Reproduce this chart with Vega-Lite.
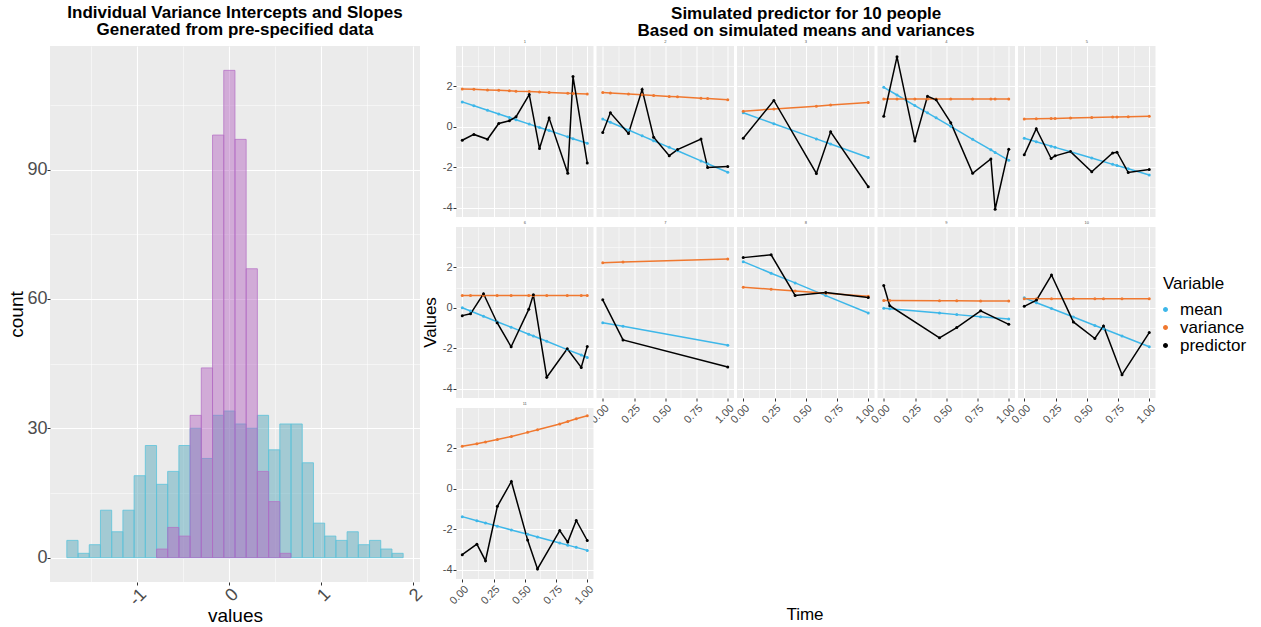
{
  "$schema": "https://vega.github.io/schema/vega-lite/v6.json",
  "padding": {"left": 7, "top": 4, "right": 5, "bottom": 0},
  "background": "white",
  "config": {
    "font": "Liberation Sans",
    "view": {"fill": "#EBEBEB", "stroke": null},
    "axis": {"domain": false, "gridColor": "#FFFFFF", "tickColor": "#333333", "tickSize": 3, "labelColor": "#4D4D4D", "titleColor": "#000000", "titleFontWeight": "normal"},
    "title": {"fontWeight": "bold", "fontSize": 17, "lineHeight": 17, "color": "#000000", "anchor": "middle"},
    "legend": {"orient": "none", "legendX": 1113, "legendY": 230, "titleFontSize": 17, "titleFontWeight": "normal", "labelFontSize": 17, "symbolType": "circle", "symbolSize": 12, "symbolOffset": -6, "rowPadding": 0, "titlePadding": 8, "labelOffset": 6}
  },
  "spacing": -5,
  "hconcat": [
    {
      "title": {"text": ["Individual Variance Intercepts and Slopes", "Generated from pre-specified data"], "offset": 7},
      "width": 370,
      "height": 536,
      "data": {"values": [
        {"param": "intercept", "x0": -1.764, "x1": -1.642, "count": 4},
        {"param": "intercept", "x0": -1.642, "x1": -1.520, "count": 1},
        {"param": "intercept", "x0": -1.520, "x1": -1.398, "count": 3},
        {"param": "intercept", "x0": -1.398, "x1": -1.276, "count": 11},
        {"param": "intercept", "x0": -1.276, "x1": -1.154, "count": 6},
        {"param": "intercept", "x0": -1.154, "x1": -1.032, "count": 11},
        {"param": "intercept", "x0": -1.032, "x1": -0.910, "count": 19},
        {"param": "intercept", "x0": -0.910, "x1": -0.788, "count": 26},
        {"param": "intercept", "x0": -0.788, "x1": -0.667, "count": 17},
        {"param": "intercept", "x0": -0.667, "x1": -0.545, "count": 20},
        {"param": "intercept", "x0": -0.545, "x1": -0.423, "count": 26},
        {"param": "intercept", "x0": -0.423, "x1": -0.301, "count": 30},
        {"param": "intercept", "x0": -0.301, "x1": -0.179, "count": 23},
        {"param": "intercept", "x0": -0.179, "x1": -0.057, "count": 33},
        {"param": "intercept", "x0": -0.057, "x1": 0.065, "count": 34},
        {"param": "intercept", "x0": 0.065, "x1": 0.187, "count": 31},
        {"param": "intercept", "x0": 0.187, "x1": 0.309, "count": 30},
        {"param": "intercept", "x0": 0.309, "x1": 0.431, "count": 33},
        {"param": "intercept", "x0": 0.431, "x1": 0.553, "count": 25},
        {"param": "intercept", "x0": 0.553, "x1": 0.675, "count": 31},
        {"param": "intercept", "x0": 0.675, "x1": 0.797, "count": 31},
        {"param": "intercept", "x0": 0.797, "x1": 0.919, "count": 22},
        {"param": "intercept", "x0": 0.919, "x1": 1.041, "count": 8},
        {"param": "intercept", "x0": 1.041, "x1": 1.163, "count": 5},
        {"param": "intercept", "x0": 1.163, "x1": 1.285, "count": 4},
        {"param": "intercept", "x0": 1.285, "x1": 1.407, "count": 6},
        {"param": "intercept", "x0": 1.407, "x1": 1.529, "count": 3},
        {"param": "intercept", "x0": 1.529, "x1": 1.651, "count": 4},
        {"param": "intercept", "x0": 1.651, "x1": 1.773, "count": 2},
        {"param": "intercept", "x0": 1.773, "x1": 1.895, "count": 1},
        {"param": "slope", "x0": -0.788, "x1": -0.667, "count": 2},
        {"param": "slope", "x0": -0.667, "x1": -0.545, "count": 7},
        {"param": "slope", "x0": -0.545, "x1": -0.423, "count": 5},
        {"param": "slope", "x0": -0.423, "x1": -0.301, "count": 33},
        {"param": "slope", "x0": -0.301, "x1": -0.179, "count": 44},
        {"param": "slope", "x0": -0.179, "x1": -0.057, "count": 98},
        {"param": "slope", "x0": -0.057, "x1": 0.065, "count": 113},
        {"param": "slope", "x0": 0.065, "x1": 0.187, "count": 97},
        {"param": "slope", "x0": 0.187, "x1": 0.309, "count": 67},
        {"param": "slope", "x0": 0.309, "x1": 0.431, "count": 20},
        {"param": "slope", "x0": 0.431, "x1": 0.553, "count": 13},
        {"param": "slope", "x0": 0.553, "x1": 0.675, "count": 1}
      ]},
      "encoding": {
        "x": {"field": "x0", "type": "quantitative", "title": "values",
          "scale": {"domain": [-1.947, 2.078], "nice": false, "zero": false},
          "axis": {"values": [-1.5, -1, -0.5, 0, 0.5, 1, 1.5, 2],
            "labelExpr": "datum.value % 1 === 0 ? '' + datum.value : ''",
            "gridWidth": {"condition": {"test": "datum.value % 1 === 0", "value": 1.1}, "value": 0.5},
            "tickOpacity": {"condition": {"test": "datum.value % 1 === 0", "value": 1}, "value": 0},
            "labelAngle": -45, "labelFontSize": 18, "titleFontSize": 19, "labelPadding": 0, "titlePadding": -3}},
        "x2": {"field": "x1"},
        "y": {"field": "count", "type": "quantitative", "title": "count",
          "scale": {"domain": [-5.65, 118.65], "nice": false, "zero": false},
          "axis": {"values": [0, 15, 30, 45, 60, 75, 90, 105],
            "labelExpr": "datum.value % 30 === 0 ? '' + datum.value : ''",
            "gridWidth": {"condition": {"test": "datum.value % 30 === 0", "value": 1.1}, "value": 0.5},
            "tickOpacity": {"condition": {"test": "datum.value % 30 === 0", "value": 1}, "value": 0},
            "labelFontSize": 18, "titleFontSize": 19, "labelPadding": 0, "titlePadding": 0}},
        "y2": {"datum": 0}
      },
      "layer": [
        {"transform": [{"filter": "datum.param === 'intercept'"}],
         "mark": {"type": "rect", "fill": "#67AFC0", "fillOpacity": 0.55, "stroke": "#5CC3DB", "strokeWidth": 1, "strokeOpacity": 0.8}},
        {"transform": [{"filter": "datum.param === 'slope'"}],
         "mark": {"type": "rect", "fill": "#B25EBE", "fillOpacity": 0.45, "stroke": "#B46CC4", "strokeWidth": 1, "strokeOpacity": 0.7}}
      ]
    },
    {
      "title": {"text": ["Simulated predictor for 10 people", "Based on simulated means and variances"], "offset": 6, "dy": 6, "dx": 17},
      "data": {"values": [
        {"id": 1, "t": 0, "mean": 1.23, "variance": 1.87, "predictor": -0.67},
        {"id": 1, "t": 0.093, "mean": 1.04, "variance": 1.85, "predictor": -0.38},
        {"id": 1, "t": 0.202, "mean": 0.82, "variance": 1.82, "predictor": -0.62},
        {"id": 1, "t": 0.292, "mean": 0.63, "variance": 1.80, "predictor": 0.16},
        {"id": 1, "t": 0.377, "mean": 0.46, "variance": 1.78, "predictor": 0.30},
        {"id": 1, "t": 0.430, "mean": 0.35, "variance": 1.76, "predictor": 0.49},
        {"id": 1, "t": 0.536, "mean": 0.13, "variance": 1.74, "predictor": 1.59},
        {"id": 1, "t": 0.618, "mean": -0.04, "variance": 1.72, "predictor": -1.08},
        {"id": 1, "t": 0.695, "mean": -0.19, "variance": 1.70, "predictor": 0.43},
        {"id": 1, "t": 0.844, "mean": -0.50, "variance": 1.66, "predictor": -2.30},
        {"id": 1, "t": 0.886, "mean": -0.59, "variance": 1.65, "predictor": 2.48},
        {"id": 1, "t": 1.0, "mean": -0.82, "variance": 1.62, "predictor": -1.79},
        {"id": 2, "t": 0, "mean": 0.38, "variance": 1.69, "predictor": -0.28},
        {"id": 2, "t": 0.061, "mean": 0.22, "variance": 1.67, "predictor": 0.69},
        {"id": 2, "t": 0.206, "mean": -0.16, "variance": 1.62, "predictor": -0.33},
        {"id": 2, "t": 0.315, "mean": -0.45, "variance": 1.58, "predictor": 1.84},
        {"id": 2, "t": 0.407, "mean": -0.69, "variance": 1.55, "predictor": -0.52},
        {"id": 2, "t": 0.532, "mean": -1.02, "variance": 1.50, "predictor": -1.43},
        {"id": 2, "t": 0.598, "mean": -1.19, "variance": 1.48, "predictor": -1.13},
        {"id": 2, "t": 0.786, "mean": -1.69, "variance": 1.41, "predictor": -0.61},
        {"id": 2, "t": 0.839, "mean": -1.83, "variance": 1.40, "predictor": -2.02},
        {"id": 2, "t": 1.0, "mean": -2.25, "variance": 1.34, "predictor": -1.97},
        {"id": 3, "t": 0, "mean": 0.69, "variance": 0.77, "predictor": -0.57},
        {"id": 3, "t": 0.245, "mean": 0.15, "variance": 0.88, "predictor": 1.30},
        {"id": 3, "t": 0.585, "mean": -0.60, "variance": 1.02, "predictor": -2.31},
        {"id": 3, "t": 0.699, "mean": -0.85, "variance": 1.07, "predictor": -0.25},
        {"id": 3, "t": 1.0, "mean": -1.52, "variance": 1.20, "predictor": -2.97},
        {"id": 4, "t": 0, "mean": 1.95, "variance": 1.37, "predictor": 0.52},
        {"id": 4, "t": 0.106, "mean": 1.57, "variance": 1.37, "predictor": 3.46},
        {"id": 4, "t": 0.249, "mean": 1.05, "variance": 1.37, "predictor": -0.70},
        {"id": 4, "t": 0.350, "mean": 0.69, "variance": 1.37, "predictor": 1.51},
        {"id": 4, "t": 0.419, "mean": 0.44, "variance": 1.37, "predictor": 1.33},
        {"id": 4, "t": 0.536, "mean": 0.02, "variance": 1.37, "predictor": 0.20},
        {"id": 4, "t": 0.711, "mean": -0.62, "variance": 1.37, "predictor": -2.30},
        {"id": 4, "t": 0.857, "mean": -1.14, "variance": 1.37, "predictor": -1.59},
        {"id": 4, "t": 0.891, "mean": -1.27, "variance": 1.37, "predictor": -4.08},
        {"id": 4, "t": 1.0, "mean": -1.66, "variance": 1.37, "predictor": -1.11},
        {"id": 5, "t": 0, "mean": -0.57, "variance": 0.38, "predictor": -1.39},
        {"id": 5, "t": 0.096, "mean": -0.74, "variance": 0.39, "predictor": -0.10},
        {"id": 5, "t": 0.215, "mean": -0.96, "variance": 0.41, "predictor": -1.57},
        {"id": 5, "t": 0.247, "mean": -1.02, "variance": 0.41, "predictor": -1.44},
        {"id": 5, "t": 0.370, "mean": -1.24, "variance": 0.43, "predictor": -1.23},
        {"id": 5, "t": 0.540, "mean": -1.55, "variance": 0.46, "predictor": -2.23},
        {"id": 5, "t": 0.707, "mean": -1.86, "variance": 0.48, "predictor": -1.30},
        {"id": 5, "t": 0.742, "mean": -1.92, "variance": 0.48, "predictor": -1.26},
        {"id": 5, "t": 0.832, "mean": -2.08, "variance": 0.50, "predictor": -2.26},
        {"id": 5, "t": 1.0, "mean": -2.39, "variance": 0.52, "predictor": -2.11},
        {"id": 6, "t": 0, "mean": 0.0, "variance": 0.61, "predictor": -0.39},
        {"id": 6, "t": 0.066, "mean": -0.16, "variance": 0.61, "predictor": -0.30},
        {"id": 6, "t": 0.170, "mean": -0.42, "variance": 0.61, "predictor": 0.69},
        {"id": 6, "t": 0.279, "mean": -0.69, "variance": 0.61, "predictor": -0.74},
        {"id": 6, "t": 0.391, "mean": -0.96, "variance": 0.61, "predictor": -1.93},
        {"id": 6, "t": 0.532, "mean": -1.31, "variance": 0.61, "predictor": -0.08},
        {"id": 6, "t": 0.569, "mean": -1.40, "variance": 0.61, "predictor": 0.64},
        {"id": 6, "t": 0.676, "mean": -1.66, "variance": 0.61, "predictor": -3.44},
        {"id": 6, "t": 0.840, "mean": -2.07, "variance": 0.61, "predictor": -2.03},
        {"id": 6, "t": 0.952, "mean": -2.34, "variance": 0.61, "predictor": -2.95},
        {"id": 6, "t": 1.0, "mean": -2.46, "variance": 0.61, "predictor": -1.92},
        {"id": 7, "t": 0, "mean": -0.74, "variance": 2.23, "predictor": 0.39},
        {"id": 7, "t": 0.162, "mean": -0.92, "variance": 2.26, "predictor": -1.59},
        {"id": 7, "t": 1.0, "mean": -1.85, "variance": 2.41, "predictor": -2.93},
        {"id": 8, "t": 0, "mean": 2.28, "variance": 1.02, "predictor": 2.48},
        {"id": 8, "t": 0.223, "mean": 1.71, "variance": 0.92, "predictor": 2.62},
        {"id": 8, "t": 0.415, "mean": 1.23, "variance": 0.83, "predictor": 0.61},
        {"id": 8, "t": 0.660, "mean": 0.60, "variance": 0.72, "predictor": 0.75},
        {"id": 8, "t": 1.0, "mean": -0.26, "variance": 0.57, "predictor": 0.51},
        {"id": 9, "t": 0, "mean": -0.02, "variance": 0.36, "predictor": 1.10},
        {"id": 9, "t": 0.048, "mean": -0.05, "variance": 0.36, "predictor": 0.10},
        {"id": 9, "t": 0.446, "mean": -0.26, "variance": 0.35, "predictor": -1.49},
        {"id": 9, "t": 0.584, "mean": -0.34, "variance": 0.35, "predictor": -0.98},
        {"id": 9, "t": 0.775, "mean": -0.44, "variance": 0.34, "predictor": -0.15},
        {"id": 9, "t": 1.0, "mean": -0.56, "variance": 0.34, "predictor": -0.82},
        {"id": 10, "t": 0, "mean": 0.49, "variance": 0.44, "predictor": 0.07},
        {"id": 10, "t": 0.098, "mean": 0.25, "variance": 0.44, "predictor": 0.38},
        {"id": 10, "t": 0.218, "mean": -0.04, "variance": 0.44, "predictor": 1.62},
        {"id": 10, "t": 0.393, "mean": -0.46, "variance": 0.44, "predictor": -0.70},
        {"id": 10, "t": 0.565, "mean": -0.88, "variance": 0.44, "predictor": -1.52},
        {"id": 10, "t": 0.634, "mean": -1.04, "variance": 0.44, "predictor": -0.90},
        {"id": 10, "t": 0.782, "mean": -1.40, "variance": 0.44, "predictor": -3.31},
        {"id": 10, "t": 1.0, "mean": -1.93, "variance": 0.44, "predictor": -1.23},
        {"id": 11, "t": 0, "mean": -1.38, "variance": 2.10, "predictor": -3.26},
        {"id": 11, "t": 0.117, "mean": -1.58, "variance": 2.23, "predictor": -2.74},
        {"id": 11, "t": 0.186, "mean": -1.69, "variance": 2.31, "predictor": -3.56},
        {"id": 11, "t": 0.281, "mean": -1.85, "variance": 2.44, "predictor": -0.87},
        {"id": 11, "t": 0.393, "mean": -2.04, "variance": 2.59, "predictor": 0.36},
        {"id": 11, "t": 0.523, "mean": -2.25, "variance": 2.79, "predictor": -2.54},
        {"id": 11, "t": 0.602, "mean": -2.39, "variance": 2.92, "predictor": -3.97},
        {"id": 11, "t": 0.780, "mean": -2.68, "variance": 3.20, "predictor": -2.07},
        {"id": 11, "t": 0.844, "mean": -2.79, "variance": 3.33, "predictor": -2.64},
        {"id": 11, "t": 0.912, "mean": -2.90, "variance": 3.46, "predictor": -1.57},
        {"id": 11, "t": 1.0, "mean": -3.05, "variance": 3.61, "predictor": -2.56}
      ]},
      "transform": [{"fold": ["mean", "variance", "predictor"], "as": ["Variable", "value"]}],
      "bounds": "flush",
      "columns": 5,
      "spacing": {"row": 10, "column": 2.5},
      "concat": [
          {"title": {"text": "1", "fontSize": 4, "fontWeight": "normal", "color": "#555555", "lineHeight": 5, "offset": 2},
           "width": 137.5, "height": 171, "transform": [{"filter": "datum.id === 1"}],
           "encoding": {
             "x": {"field": "t", "type": "quantitative", "scale": {"domain": [-0.05, 1.05], "nice": false, "zero": false},
               "axis": {"values": [0, 0.125, 0.25, 0.375, 0.5, 0.625, 0.75, 0.875, 1], "labels": false, "ticks": false, "title": null, "gridWidth": {"condition": {"test": "datum.value * 4 % 1 === 0", "value": 1}, "value": 0.5}}},
             "y": {"field": "value", "type": "quantitative", "scale": {"domain": [-4.465, 3.995], "nice": false, "zero": false},
               "axis": {"values": [-4, -3, -2, -1, 0, 1, 2, 3], "labelExpr": "datum.value % 2 === 0 ? '' + datum.value : ''", "gridWidth": {"condition": {"test": "datum.value % 2 === 0", "value": 1}, "value": 0.5}, "tickOpacity": {"condition": {"test": "datum.value % 2 === 0", "value": 1}, "value": 0}, "labelFontSize": 11, "labelPadding": 1, "title": null}},
             "color": {"field": "Variable", "type": "nominal", "scale": {"domain": ["mean", "variance", "predictor"], "range": ["#3DB7E9", "#F0782F", "#000000"]}, "legend": {"title": "Variable"}}
           },
           "layer": [
             {"mark": "line", "encoding": {"strokeWidth": {"field": "Variable", "type": "nominal", "scale": {"domain": ["mean", "variance", "predictor"], "range": [1.5, 1.5, 2]}, "legend": null}}},
             {"mark": {"type": "point", "filled": true, "size": 9, "opacity": 1}}
           ]},
          {"title": {"text": "2", "fontSize": 4, "fontWeight": "normal", "color": "#555555", "lineHeight": 5, "offset": 2},
           "width": 137.5, "height": 171, "transform": [{"filter": "datum.id === 2"}],
           "encoding": {
             "x": {"field": "t", "type": "quantitative", "scale": {"domain": [-0.05, 1.05], "nice": false, "zero": false},
               "axis": {"values": [0, 0.125, 0.25, 0.375, 0.5, 0.625, 0.75, 0.875, 1], "labels": false, "ticks": false, "title": null, "gridWidth": {"condition": {"test": "datum.value * 4 % 1 === 0", "value": 1}, "value": 0.5}}},
             "y": {"field": "value", "type": "quantitative", "scale": {"domain": [-4.465, 3.995], "nice": false, "zero": false},
               "axis": {"values": [-4, -3, -2, -1, 0, 1, 2, 3], "labels": false, "ticks": false, "title": null, "gridWidth": {"condition": {"test": "datum.value % 2 === 0", "value": 1}, "value": 0.5}}},
             "color": {"field": "Variable", "type": "nominal", "scale": {"domain": ["mean", "variance", "predictor"], "range": ["#3DB7E9", "#F0782F", "#000000"]}, "legend": {"title": "Variable"}}
           },
           "layer": [
             {"mark": "line", "encoding": {"strokeWidth": {"field": "Variable", "type": "nominal", "scale": {"domain": ["mean", "variance", "predictor"], "range": [1.5, 1.5, 2]}, "legend": null}}},
             {"mark": {"type": "point", "filled": true, "size": 9, "opacity": 1}}
           ]},
          {"title": {"text": "3", "fontSize": 4, "fontWeight": "normal", "color": "#555555", "lineHeight": 5, "offset": 2},
           "width": 137.5, "height": 171, "transform": [{"filter": "datum.id === 3"}],
           "encoding": {
             "x": {"field": "t", "type": "quantitative", "scale": {"domain": [-0.05, 1.05], "nice": false, "zero": false},
               "axis": {"values": [0, 0.125, 0.25, 0.375, 0.5, 0.625, 0.75, 0.875, 1], "labels": false, "ticks": false, "title": null, "gridWidth": {"condition": {"test": "datum.value * 4 % 1 === 0", "value": 1}, "value": 0.5}}},
             "y": {"field": "value", "type": "quantitative", "scale": {"domain": [-4.465, 3.995], "nice": false, "zero": false},
               "axis": {"values": [-4, -3, -2, -1, 0, 1, 2, 3], "labels": false, "ticks": false, "title": null, "gridWidth": {"condition": {"test": "datum.value % 2 === 0", "value": 1}, "value": 0.5}}},
             "color": {"field": "Variable", "type": "nominal", "scale": {"domain": ["mean", "variance", "predictor"], "range": ["#3DB7E9", "#F0782F", "#000000"]}, "legend": {"title": "Variable"}}
           },
           "layer": [
             {"mark": "line", "encoding": {"strokeWidth": {"field": "Variable", "type": "nominal", "scale": {"domain": ["mean", "variance", "predictor"], "range": [1.5, 1.5, 2]}, "legend": null}}},
             {"mark": {"type": "point", "filled": true, "size": 9, "opacity": 1}}
           ]},
          {"title": {"text": "4", "fontSize": 4, "fontWeight": "normal", "color": "#555555", "lineHeight": 5, "offset": 2},
           "width": 137.5, "height": 171, "transform": [{"filter": "datum.id === 4"}],
           "encoding": {
             "x": {"field": "t", "type": "quantitative", "scale": {"domain": [-0.05, 1.05], "nice": false, "zero": false},
               "axis": {"values": [0, 0.125, 0.25, 0.375, 0.5, 0.625, 0.75, 0.875, 1], "labels": false, "ticks": false, "title": null, "gridWidth": {"condition": {"test": "datum.value * 4 % 1 === 0", "value": 1}, "value": 0.5}}},
             "y": {"field": "value", "type": "quantitative", "scale": {"domain": [-4.465, 3.995], "nice": false, "zero": false},
               "axis": {"values": [-4, -3, -2, -1, 0, 1, 2, 3], "labels": false, "ticks": false, "title": null, "gridWidth": {"condition": {"test": "datum.value % 2 === 0", "value": 1}, "value": 0.5}}},
             "color": {"field": "Variable", "type": "nominal", "scale": {"domain": ["mean", "variance", "predictor"], "range": ["#3DB7E9", "#F0782F", "#000000"]}, "legend": {"title": "Variable"}}
           },
           "layer": [
             {"mark": "line", "encoding": {"strokeWidth": {"field": "Variable", "type": "nominal", "scale": {"domain": ["mean", "variance", "predictor"], "range": [1.5, 1.5, 2]}, "legend": null}}},
             {"mark": {"type": "point", "filled": true, "size": 9, "opacity": 1}}
           ]},
          {"title": {"text": "5", "fontSize": 4, "fontWeight": "normal", "color": "#555555", "lineHeight": 5, "offset": 2},
           "width": 137.5, "height": 171, "transform": [{"filter": "datum.id === 5"}],
           "encoding": {
             "x": {"field": "t", "type": "quantitative", "scale": {"domain": [-0.05, 1.05], "nice": false, "zero": false},
               "axis": {"values": [0, 0.125, 0.25, 0.375, 0.5, 0.625, 0.75, 0.875, 1], "labels": false, "ticks": false, "title": null, "gridWidth": {"condition": {"test": "datum.value * 4 % 1 === 0", "value": 1}, "value": 0.5}}},
             "y": {"field": "value", "type": "quantitative", "scale": {"domain": [-4.465, 3.995], "nice": false, "zero": false},
               "axis": {"values": [-4, -3, -2, -1, 0, 1, 2, 3], "labels": false, "ticks": false, "title": null, "gridWidth": {"condition": {"test": "datum.value % 2 === 0", "value": 1}, "value": 0.5}}},
             "color": {"field": "Variable", "type": "nominal", "scale": {"domain": ["mean", "variance", "predictor"], "range": ["#3DB7E9", "#F0782F", "#000000"]}, "legend": {"title": "Variable"}}
           },
           "layer": [
             {"mark": "line", "encoding": {"strokeWidth": {"field": "Variable", "type": "nominal", "scale": {"domain": ["mean", "variance", "predictor"], "range": [1.5, 1.5, 2]}, "legend": null}}},
             {"mark": {"type": "point", "filled": true, "size": 9, "opacity": 1}}
           ]},
          {"title": {"text": "6", "fontSize": 4, "fontWeight": "normal", "color": "#555555", "lineHeight": 5, "offset": 2},
           "width": 137.5, "height": 171, "transform": [{"filter": "datum.id === 6"}],
           "encoding": {
             "x": {"field": "t", "type": "quantitative", "scale": {"domain": [-0.05, 1.05], "nice": false, "zero": false},
               "axis": {"values": [0, 0.125, 0.25, 0.375, 0.5, 0.625, 0.75, 0.875, 1], "labels": false, "ticks": false, "title": null, "gridWidth": {"condition": {"test": "datum.value * 4 % 1 === 0", "value": 1}, "value": 0.5}}},
             "y": {"field": "value", "type": "quantitative", "scale": {"domain": [-4.465, 3.995], "nice": false, "zero": false},
               "axis": {"values": [-4, -3, -2, -1, 0, 1, 2, 3], "labelExpr": "datum.value % 2 === 0 ? '' + datum.value : ''", "gridWidth": {"condition": {"test": "datum.value % 2 === 0", "value": 1}, "value": 0.5}, "tickOpacity": {"condition": {"test": "datum.value % 2 === 0", "value": 1}, "value": 0}, "labelFontSize": 11, "labelPadding": 1, "title": "Values", "titleFontSize": 17, "titlePadding": 3, "titleY": 95}},
             "color": {"field": "Variable", "type": "nominal", "scale": {"domain": ["mean", "variance", "predictor"], "range": ["#3DB7E9", "#F0782F", "#000000"]}, "legend": {"title": "Variable"}}
           },
           "layer": [
             {"mark": "line", "encoding": {"strokeWidth": {"field": "Variable", "type": "nominal", "scale": {"domain": ["mean", "variance", "predictor"], "range": [1.5, 1.5, 2]}, "legend": null}}},
             {"mark": {"type": "point", "filled": true, "size": 9, "opacity": 1}}
           ]},
          {"title": {"text": "7", "fontSize": 4, "fontWeight": "normal", "color": "#555555", "lineHeight": 5, "offset": 2},
           "width": 137.5, "height": 171, "transform": [{"filter": "datum.id === 7"}],
           "encoding": {
             "x": {"field": "t", "type": "quantitative", "scale": {"domain": [-0.05, 1.05], "nice": false, "zero": false},
               "axis": {"values": [0, 0.125, 0.25, 0.375, 0.5, 0.625, 0.75, 0.875, 1], "labelExpr": "datum.value * 4 % 1 === 0 ? format(datum.value, '.2f') : ''", "gridWidth": {"condition": {"test": "datum.value * 4 % 1 === 0", "value": 1}, "value": 0.5}, "tickOpacity": {"condition": {"test": "datum.value * 4 % 1 === 0", "value": 1}, "value": 0}, "labelAngle": -45, "labelFontSize": 11, "labelPadding": 1, "title": null}},
             "y": {"field": "value", "type": "quantitative", "scale": {"domain": [-4.465, 3.995], "nice": false, "zero": false},
               "axis": {"values": [-4, -3, -2, -1, 0, 1, 2, 3], "labels": false, "ticks": false, "title": null, "gridWidth": {"condition": {"test": "datum.value % 2 === 0", "value": 1}, "value": 0.5}}},
             "color": {"field": "Variable", "type": "nominal", "scale": {"domain": ["mean", "variance", "predictor"], "range": ["#3DB7E9", "#F0782F", "#000000"]}, "legend": {"title": "Variable"}}
           },
           "layer": [
             {"mark": "line", "encoding": {"strokeWidth": {"field": "Variable", "type": "nominal", "scale": {"domain": ["mean", "variance", "predictor"], "range": [1.5, 1.5, 2]}, "legend": null}}},
             {"mark": {"type": "point", "filled": true, "size": 9, "opacity": 1}}
           ]},
          {"title": {"text": "8", "fontSize": 4, "fontWeight": "normal", "color": "#555555", "lineHeight": 5, "offset": 2},
           "width": 137.5, "height": 171, "transform": [{"filter": "datum.id === 8"}],
           "encoding": {
             "x": {"field": "t", "type": "quantitative", "scale": {"domain": [-0.05, 1.05], "nice": false, "zero": false},
               "axis": {"values": [0, 0.125, 0.25, 0.375, 0.5, 0.625, 0.75, 0.875, 1], "labelExpr": "datum.value * 4 % 1 === 0 ? format(datum.value, '.2f') : ''", "gridWidth": {"condition": {"test": "datum.value * 4 % 1 === 0", "value": 1}, "value": 0.5}, "tickOpacity": {"condition": {"test": "datum.value * 4 % 1 === 0", "value": 1}, "value": 0}, "labelAngle": -45, "labelFontSize": 11, "labelPadding": 1, "title": null}},
             "y": {"field": "value", "type": "quantitative", "scale": {"domain": [-4.465, 3.995], "nice": false, "zero": false},
               "axis": {"values": [-4, -3, -2, -1, 0, 1, 2, 3], "labels": false, "ticks": false, "title": null, "gridWidth": {"condition": {"test": "datum.value % 2 === 0", "value": 1}, "value": 0.5}}},
             "color": {"field": "Variable", "type": "nominal", "scale": {"domain": ["mean", "variance", "predictor"], "range": ["#3DB7E9", "#F0782F", "#000000"]}, "legend": {"title": "Variable"}}
           },
           "layer": [
             {"mark": "line", "encoding": {"strokeWidth": {"field": "Variable", "type": "nominal", "scale": {"domain": ["mean", "variance", "predictor"], "range": [1.5, 1.5, 2]}, "legend": null}}},
             {"mark": {"type": "point", "filled": true, "size": 9, "opacity": 1}}
           ]},
          {"title": {"text": "9", "fontSize": 4, "fontWeight": "normal", "color": "#555555", "lineHeight": 5, "offset": 2},
           "width": 137.5, "height": 171, "transform": [{"filter": "datum.id === 9"}],
           "encoding": {
             "x": {"field": "t", "type": "quantitative", "scale": {"domain": [-0.05, 1.05], "nice": false, "zero": false},
               "axis": {"values": [0, 0.125, 0.25, 0.375, 0.5, 0.625, 0.75, 0.875, 1], "labelExpr": "datum.value * 4 % 1 === 0 ? format(datum.value, '.2f') : ''", "gridWidth": {"condition": {"test": "datum.value * 4 % 1 === 0", "value": 1}, "value": 0.5}, "tickOpacity": {"condition": {"test": "datum.value * 4 % 1 === 0", "value": 1}, "value": 0}, "labelAngle": -45, "labelFontSize": 11, "labelPadding": 1, "title": null}},
             "y": {"field": "value", "type": "quantitative", "scale": {"domain": [-4.465, 3.995], "nice": false, "zero": false},
               "axis": {"values": [-4, -3, -2, -1, 0, 1, 2, 3], "labels": false, "ticks": false, "title": null, "gridWidth": {"condition": {"test": "datum.value % 2 === 0", "value": 1}, "value": 0.5}}},
             "color": {"field": "Variable", "type": "nominal", "scale": {"domain": ["mean", "variance", "predictor"], "range": ["#3DB7E9", "#F0782F", "#000000"]}, "legend": {"title": "Variable"}}
           },
           "layer": [
             {"mark": "line", "encoding": {"strokeWidth": {"field": "Variable", "type": "nominal", "scale": {"domain": ["mean", "variance", "predictor"], "range": [1.5, 1.5, 2]}, "legend": null}}},
             {"mark": {"type": "point", "filled": true, "size": 9, "opacity": 1}}
           ]},
          {"title": {"text": "10", "fontSize": 4, "fontWeight": "normal", "color": "#555555", "lineHeight": 5, "offset": 2},
           "width": 137.5, "height": 171, "transform": [{"filter": "datum.id === 10"}],
           "encoding": {
             "x": {"field": "t", "type": "quantitative", "scale": {"domain": [-0.05, 1.05], "nice": false, "zero": false},
               "axis": {"values": [0, 0.125, 0.25, 0.375, 0.5, 0.625, 0.75, 0.875, 1], "labelExpr": "datum.value * 4 % 1 === 0 ? format(datum.value, '.2f') : ''", "gridWidth": {"condition": {"test": "datum.value * 4 % 1 === 0", "value": 1}, "value": 0.5}, "tickOpacity": {"condition": {"test": "datum.value * 4 % 1 === 0", "value": 1}, "value": 0}, "labelAngle": -45, "labelFontSize": 11, "labelPadding": 1, "title": null}},
             "y": {"field": "value", "type": "quantitative", "scale": {"domain": [-4.465, 3.995], "nice": false, "zero": false},
               "axis": {"values": [-4, -3, -2, -1, 0, 1, 2, 3], "labels": false, "ticks": false, "title": null, "gridWidth": {"condition": {"test": "datum.value % 2 === 0", "value": 1}, "value": 0.5}}},
             "color": {"field": "Variable", "type": "nominal", "scale": {"domain": ["mean", "variance", "predictor"], "range": ["#3DB7E9", "#F0782F", "#000000"]}, "legend": {"title": "Variable"}}
           },
           "layer": [
             {"mark": "line", "encoding": {"strokeWidth": {"field": "Variable", "type": "nominal", "scale": {"domain": ["mean", "variance", "predictor"], "range": [1.5, 1.5, 2]}, "legend": null}}},
             {"mark": {"type": "point", "filled": true, "size": 9, "opacity": 1}}
           ]},
        {"title": {"text": "11", "fontSize": 4, "fontWeight": "normal", "color": "#555555", "lineHeight": 5, "offset": 2},
         "width": 137.5, "height": 171, "transform": [{"filter": "datum.id === 11"}],
         "encoding": {
           "x": {"field": "t", "type": "quantitative", "scale": {"domain": [-0.05, 1.05], "nice": false, "zero": false},
             "axis": {"values": [0, 0.125, 0.25, 0.375, 0.5, 0.625, 0.75, 0.875, 1], "labelExpr": "datum.value * 4 % 1 === 0 ? format(datum.value, '.2f') : ''", "gridWidth": {"condition": {"test": "datum.value * 4 % 1 === 0", "value": 1}, "value": 0.5}, "tickOpacity": {"condition": {"test": "datum.value * 4 % 1 === 0", "value": 1}, "value": 0}, "labelAngle": -45, "labelFontSize": 11, "labelPadding": 1, "title": "Time", "titleFontSize": 17, "titleX": 348.5, "titlePadding": 1}},
           "y": {"field": "value", "type": "quantitative", "scale": {"domain": [-4.465, 3.995], "nice": false, "zero": false},
             "axis": {"values": [-4, -3, -2, -1, 0, 1, 2, 3], "labelExpr": "datum.value % 2 === 0 ? '' + datum.value : ''", "gridWidth": {"condition": {"test": "datum.value % 2 === 0", "value": 1}, "value": 0.5}, "tickOpacity": {"condition": {"test": "datum.value % 2 === 0", "value": 1}, "value": 0}, "labelFontSize": 11, "labelPadding": 1, "title": null}},
           "color": {"field": "Variable", "type": "nominal", "scale": {"domain": ["mean", "variance", "predictor"], "range": ["#3DB7E9", "#F0782F", "#000000"]}, "legend": {"title": "Variable"}}
         },
         "layer": [
           {"mark": "line", "encoding": {"strokeWidth": {"field": "Variable", "type": "nominal", "scale": {"domain": ["mean", "variance", "predictor"], "range": [1.5, 1.5, 2]}, "legend": null}}},
           {"mark": {"type": "point", "filled": true, "size": 9, "opacity": 1}}
         ]}
      ]
    }
  ]
}
